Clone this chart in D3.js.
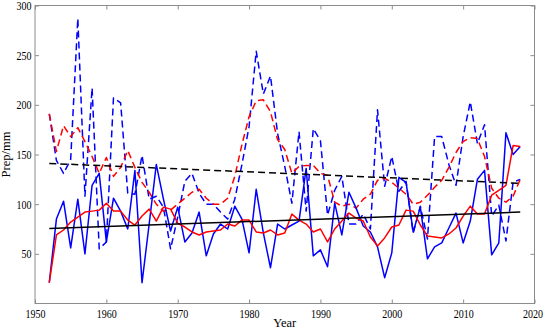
<!DOCTYPE html>
<html lang="en">
<head>
<meta charset="UTF-8">
<title>Prep</title>
<script src="https://d3js.org/d3.v7.min.js"></script>
<style>
    body { margin: 0; background: #fff; }
    text { font-family: "Liberation Serif", "Times New Roman", serif; font-size: 13px; fill: #000; }
    .line { fill: none; stroke-width: 1.5px; stroke-linejoin: round; }
    .frame { fill: none; stroke: #8c8c8c; stroke-width: 1px; }
</style>
</head>
<body>
<svg id="chart"></svg>
<script>
// years 1952-2018
const years = [1952,1953,1954,1955,1956,1957,1958,1959,1960,1961,1962,1963,1964,1965,1966,1967,1968,1969,1970,1971,
    1972,1973,1974,1975,1976,1977,1978,1979,1980,1981,1982,1983,1984,1985,1986,1987,1988,1989,1990,1991,
    1992,1993,1994,1995,1996,1997,1998,1999,2000,2001,2002,2003,2004,2005,2006,2007,2008,2009,2010,2011,
    2012,2013,2014,2015,2016,2017,2018];

// blue solid
const precipA = [21,85,103,56,105,50,119,131,62,106, 93,75,134,21,80,140,105,73,97,62,
    71,92,48,70,80,75,98,85,51,115, 71,36,80,75,79,83,136,48,54,37,
    101,69,112,96,78,72,57,26,51,127, 122,72,97,45,57,61,76,91,61,83,
    125,134,49,61,172,150,158];
// red solid (smoothed A)
const smoothA = [21,69,74,82,87,92,93,94,101,93, 93,84,79,88,95,83,97,95,81,77,
    72,69,72,73,74,80,78,84,84,72, 71,74,69,71,90,84,80,72,75,62,
    75,83,91,86,83,67,58,66,77,79, 94,93,79,68,67,66,70,76,88,98,
    90,90,109,114,119,159,158];
// blue dashed
const precipB = [191,144,131,145,287,108,217,55,62,207, 202,111,110,149,105,108,97,55,87,123,
    131,111,100,100,92,85,105,140,178,254, 211,229,171,138,101,173,93,176,164,89,
    114,128,80,80,90,75,195,118,148,113, 123,71,98,65,168,168,140,119,168,203,
    161,180,88,99,63,122,125];
// red dashed (smoothed B)
const smoothB = [191,153,179,168,177,163,148,131,147,128, 137,154,137,122,112,100,93,94,100,106,
    112,115,106,100,100,106,128,160,188,204, 205,193,165,155,131,138,139,139,131,129,
    102,98,100,96,105,110,124,126,122,116, 110,100,102,109,117,124,137,152,163,167,
    166,148,116,106,102,108,125];

// linear trends (start / end)
const trendYears = [1952, 2018];
const trendA = [75.5, 92];
const trendB = [141, 121];

const xTicks = [1950,1960,1970,1980,1990,2000,2010,2020];
const yTicks = [50,100,150,200,250,300];

const width = 545, height = 330;
const margin = { top: 5.5, right: 10.5, bottom: 26.5, left: 35 };

const svg = d3.select("#chart")
    .attr("width", width)
    .attr("height", height);

const x = d3.scaleLinear().domain([1950, 2020]).range([margin.left, width - margin.right]);
const y = d3.scaleLinear().domain([0, 300]).range([height - margin.bottom, margin.top]);

const dashes = "7,4";

// series
const series = [
    { v: precipB, color: "#0000ff", dash: dashes },
    { v: smoothB, color: "#ff0000", dash: dashes },
    { v: precipA, color: "#0000ff", dash: null },
    { v: smoothA, color: "#ff0000", dash: null }
];

const line = d3.line()
    .x(d => x(d[0]))
    .y(d => y(d[1]));

series.forEach(s => {
    svg.append("path")
        .attr("class", "line")
        .attr("d", line(years.map((yr, i) => [yr, s.v[i]])))
        .style("stroke", s.color)
        .style("stroke-dasharray", s.dash);
});

// trend lines
svg.append("path")
    .attr("class", "line")
    .attr("d", line(trendYears.map((yr, i) => [yr, trendB[i]])))
    .style("stroke", "#000")
    .style("stroke-dasharray", dashes);

svg.append("path")
    .attr("class", "line")
    .attr("d", line(trendYears.map((yr, i) => [yr, trendA[i]])))
    .style("stroke", "#000");

// frame and ticks
const x0 = margin.left, x1 = width - margin.right;
const y0 = margin.top, y1 = height - margin.bottom;

svg.append("rect")
    .attr("class", "frame")
    .attr("x", x0).attr("y", y0)
    .attr("width", x1 - x0).attr("height", y1 - y0);

const tickLen = 4;

// bottom axis
const xAxis = svg.append("g").attr("transform", `translate(0,${y1})`)
    .call(d3.axisBottom(x).tickValues(xTicks).tickFormat(d3.format("d")).tickSizeInner(-tickLen).tickSizeOuter(0).tickPadding(5.5));
// top ticks
const xAxisTop = svg.append("g").attr("transform", `translate(0,${y0})`)
    .call(d3.axisTop(x).tickValues(xTicks).tickFormat("").tickSizeInner(-tickLen).tickSizeOuter(0));
// left
const yAxis = svg.append("g").attr("transform", `translate(${x0},0)`)
    .call(d3.axisLeft(y).tickValues(yTicks).tickSizeInner(-tickLen).tickSizeOuter(0).tickPadding(3.5));
// right
const yAxisRight = svg.append("g").attr("transform", `translate(${x1},0)`)
    .call(d3.axisRight(y).tickValues(yTicks).tickFormat("").tickSizeInner(-tickLen).tickSizeOuter(0));

[xAxis, xAxisTop, yAxis, yAxisRight].forEach(g => {
    g.select(".domain").remove();
    g.attr("font-family", '"Liberation Serif", serif').attr("font-size", 12.5);
    g.selectAll(".tick line").attr("stroke", "#8c8c8c");
    g.selectAll(".tick text")
        .attr("fill", "#000")
        .style("font-family", '"Liberation Serif", serif')
        .style("font-size", "12.5px")
        // labels in the reference are a little narrower than plain Times
        .attr("textLength", function () { return this.textContent.length * 5.0; })
        .attr("lengthAdjust", "spacingAndGlyphs");
});

// last year label sits right at the window edge, nudge it in a little
xAxis.selectAll(".tick text").filter(d => d === 2020).attr("dx", -2);

// axis labels
svg.append("text")
    .attr("x", (x0 + x1) / 2)
    .attr("y", 327)
    .attr("text-anchor", "middle")
    .style("font-size", "12.5px")
    .text("Year");

svg.append("text")
    .attr("transform", `translate(9.5,${(y0 + y1) / 2}) rotate(-90)`)
    .attr("text-anchor", "middle")
    .style("font-size", "12.5px")
    .text("Prep/mm");
</script>
</body>
</html>
